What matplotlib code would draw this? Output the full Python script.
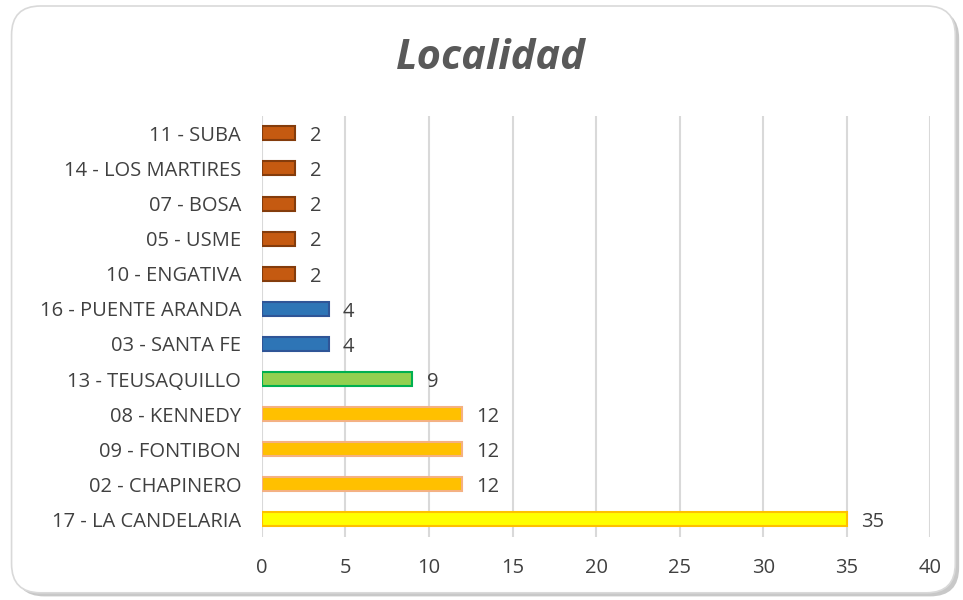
import matplotlib
matplotlib.use("Agg")
import matplotlib.pyplot as plt
from matplotlib.patches import FancyBboxPatch

categories = ["17 - LA CANDELARIA", "02 - CHAPINERO", "09 - FONTIBON", "08 - KENNEDY",
              "13 - TEUSAQUILLO", "03 - SANTA FE", "16 - PUENTE ARANDA", "10 - ENGATIVA",
              "05 - USME", "07 - BOSA", "14 - LOS MARTIRES", "11 - SUBA"]
values = [35, 12, 12, 12, 9, 4, 4, 2, 2, 2, 2, 2]
fills = ["#FFFF00", "#FFC000", "#FFC000", "#FFC000", "#92D050", "#2E75B6", "#2E75B6",
         "#C55A11", "#C55A11", "#C55A11", "#C55A11", "#C55A11"]
edges = ["#FFC000", "#F4B183", "#F4B183", "#F4B183", "#00B050", "#2F5597", "#2F5597",
         "#843C0C", "#843C0C", "#843C0C", "#843C0C", "#843C0C"]
xticks = [0, 5, 10, 15, 20, 25, 30, 35, 40]

plt.rcParams['font.family'] = ['Open Sans', 'DejaVu Sans']

fig = plt.figure(figsize=(9.63, 6), dpi=100)
fig.patch.set_facecolor("white")

# shadow and rounded frame
shadow = FancyBboxPatch((0.016, 0.006), 0.980, 0.978, boxstyle="round,pad=0,rounding_size=0.03",
                        transform=fig.transFigure, facecolor="#C8C8C8", edgecolor="none",
                        mutation_aspect=963/600, zorder=0)
fig.patches.append(shadow)
frame = FancyBboxPatch((0.012, 0.012), 0.980, 0.978, boxstyle="round,pad=0,rounding_size=0.03",
                       transform=fig.transFigure, facecolor="white", edgecolor="#D9D9D9",
                       linewidth=1.2, mutation_aspect=963/600, zorder=1)
fig.patches.append(frame)

ax = fig.add_axes([0.272, 0.105, 0.694, 0.702])
ax.set_zorder(5)
ax.set_facecolor("none")
y = range(len(categories))
ax.barh(y, values, height=0.4, color=fills, edgecolor=edges, linewidth=1.5, zorder=3)
for i, v in enumerate(values):
    ax.text(v + 0.85, i - 0.08, str(v), va="center", ha="left", fontsize=14.5, color="#404040")

ax.set_xlim(0, 40)
ax.set_ylim(-0.5, len(categories) - 0.5)
ax.set_xticks(xticks)
ax.set_yticks(list(y))
ax.set_yticklabels(categories)
ax.tick_params(axis="both", length=0, labelcolor="#404040")
ax.tick_params(axis="x", pad=15, labelsize=14.5)
ax.tick_params(axis="y", pad=15, labelsize=14.5)
ax.grid(axis="x", color="#D9D9D9", linewidth=1.5, zorder=0)
for s in ax.spines.values():
    s.set_visible(False)

fig.text(0.51, 0.903, "Localidad", ha="center", va="center", fontsize=30,
         fontweight="bold", fontstyle="italic", color="#595959", zorder=6)

fig.savefig("out.png", dpi=100)
